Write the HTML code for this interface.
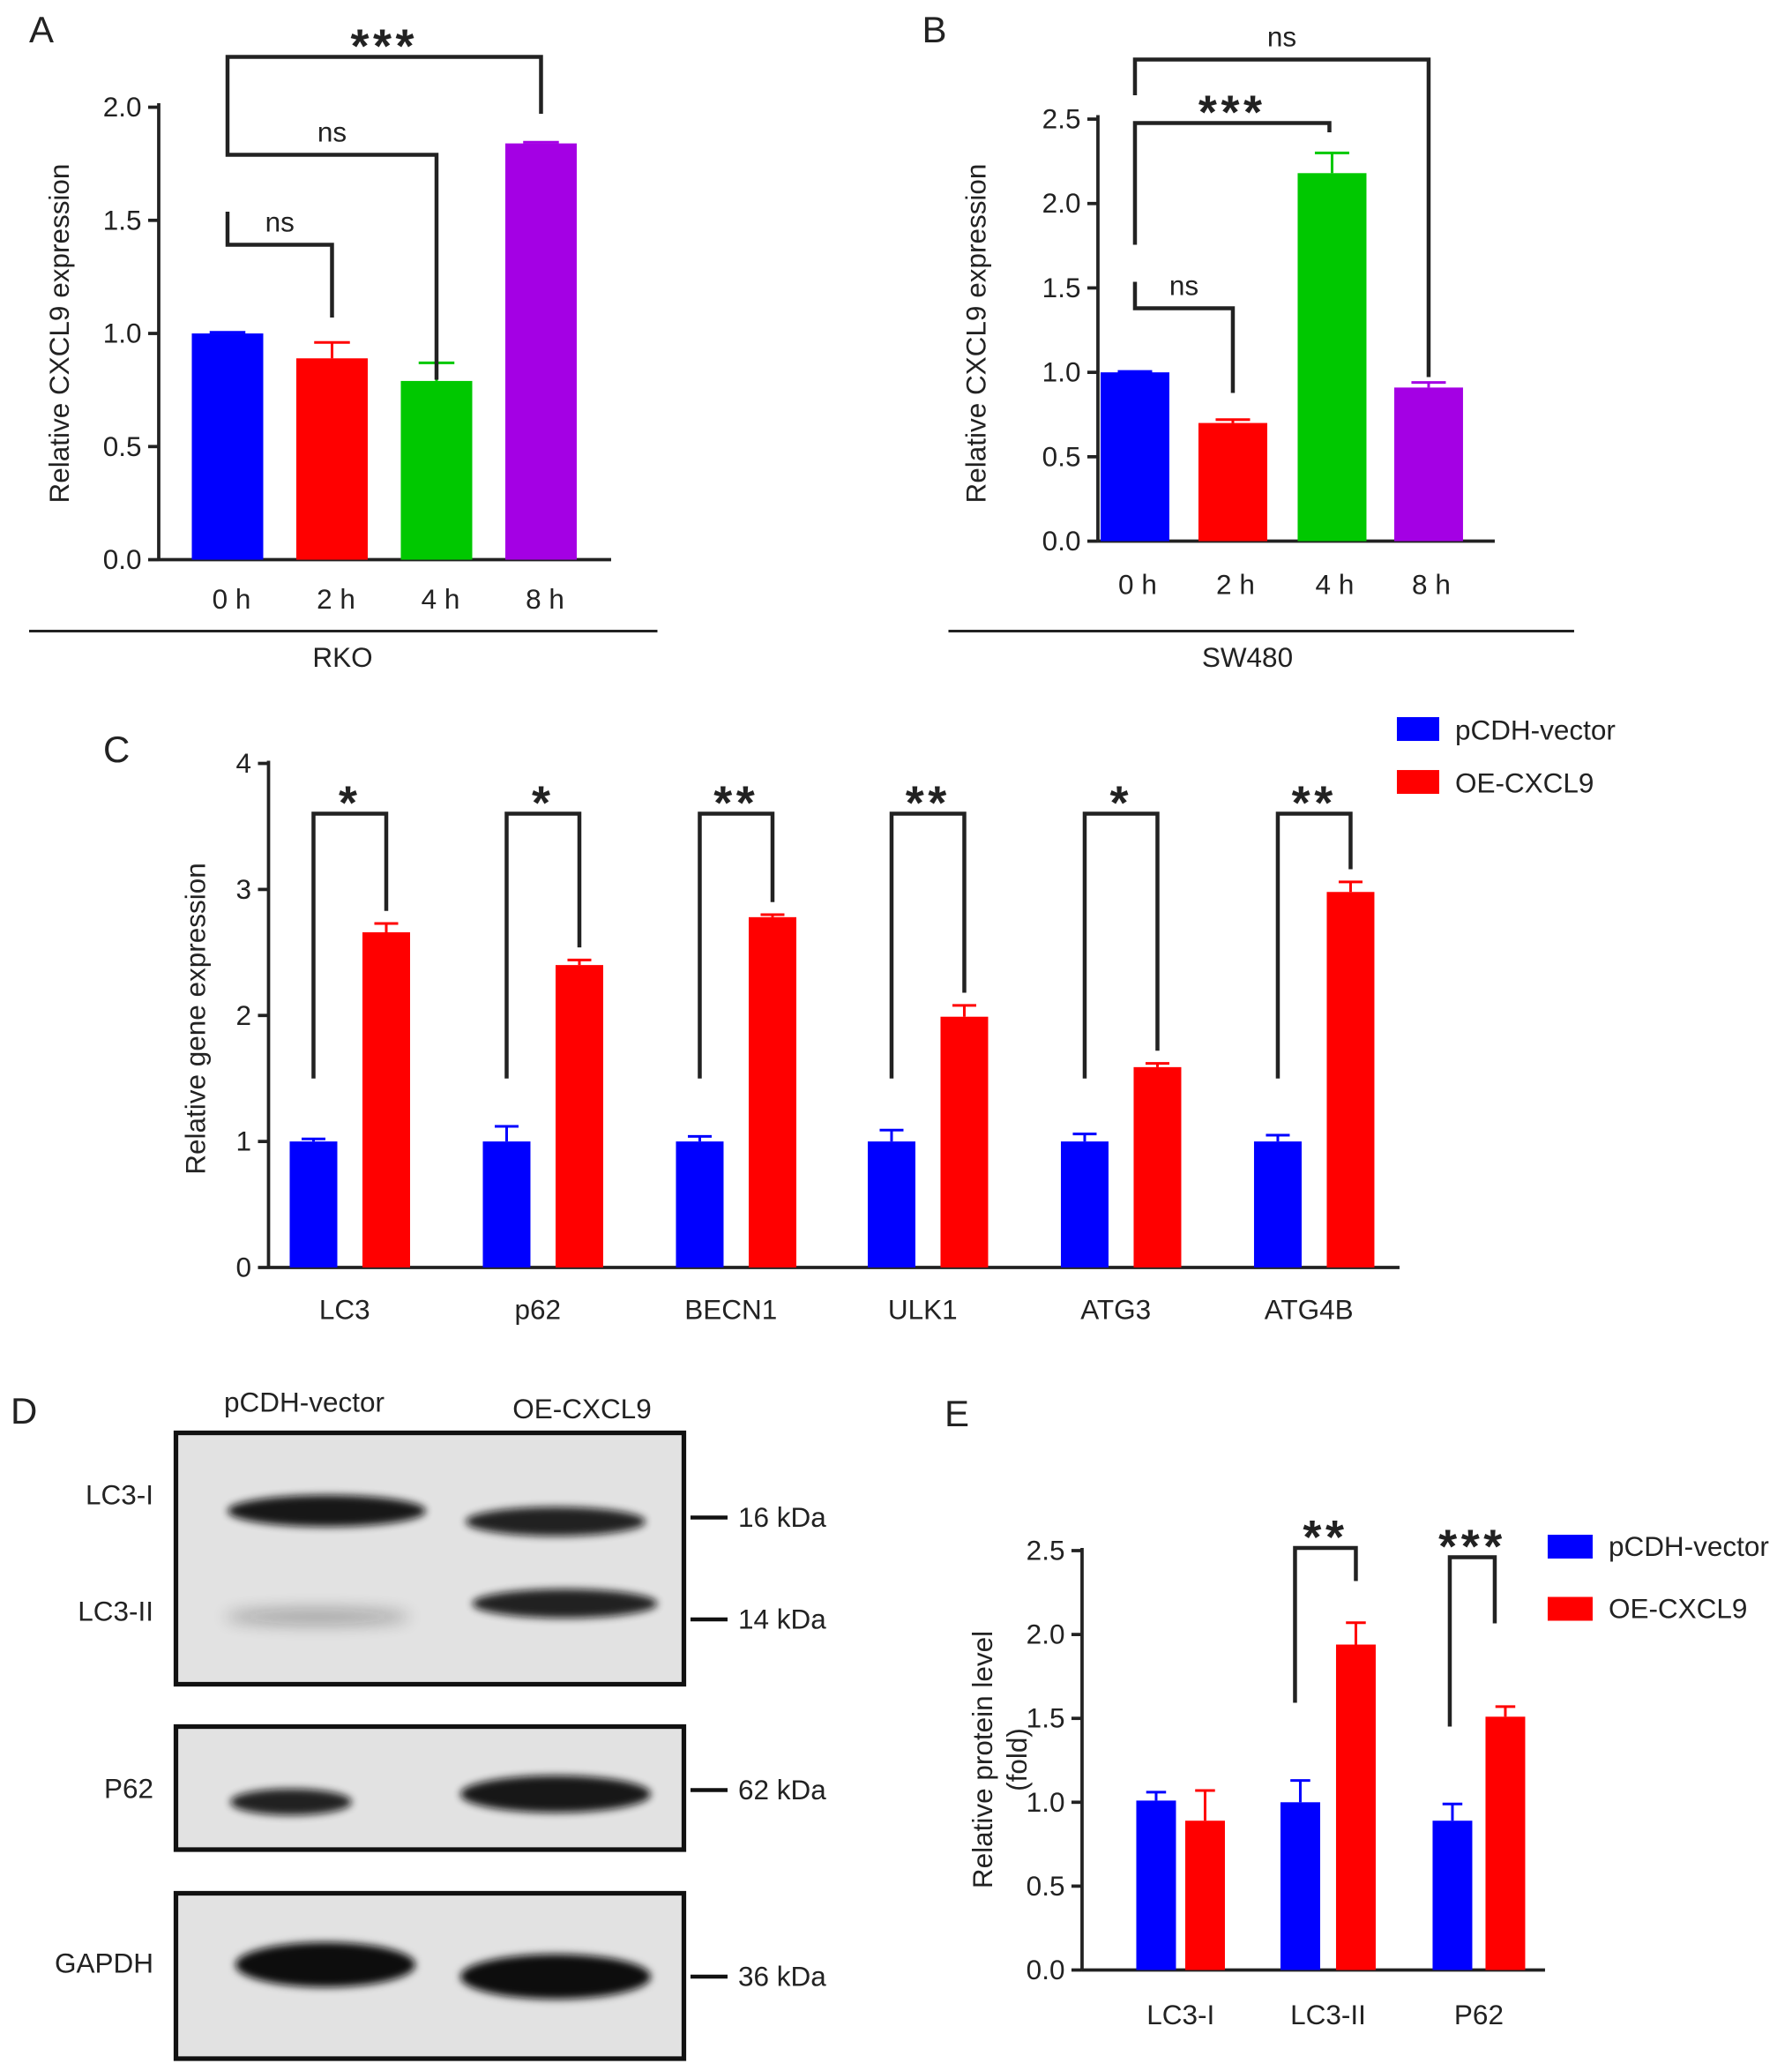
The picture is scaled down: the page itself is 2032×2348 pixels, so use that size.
<!DOCTYPE html>
<html><head><meta charset="utf-8"><style>
html,body{margin:0;padding:0;background:#fff}
svg{display:block}
text{font-family:"Liberation Sans",Arial,sans-serif;fill:#222}
</style></head><body>
<svg id="fig" width="2032" height="2348" viewBox="0 0 1354.7 1565.3" xmlns="http://www.w3.org/2000/svg">
<defs>
<filter id="blur" x="-50%" y="-100%" width="200%" height="300%"><feGaussianBlur stdDeviation="6"/></filter>
<filter id="blur2" x="-50%" y="-100%" width="200%" height="300%"><feGaussianBlur stdDeviation="3"/></filter>
</defs>
<g id="root"></g>
</svg>
<script>
// Panel A data
const aCats=["0 h","2 h","4 h","8 h"];
const aVals=[1.0,0.89,0.79,1.84];
const aErr=[0.005,0.07,0.08,0.005];
const aTicks=[0,0.5,1.0,1.5,2.0];
// Panel B data
const bCats=["0 h","2 h","4 h","8 h"];
const bVals=[1.0,0.70,2.18,0.91];
const bErr=[0.005,0.02,0.12,0.03];
const bTicks=[0,0.5,1.0,1.5,2.0,2.5];
// Panel C data
const cCats=["LC3","p62","BECN1","ULK1","ATG3","ATG4B"];
const cVector=[1,1,1,1,1,1];
const cVectorErr=[0.02,0.12,0.04,0.09,0.06,0.05];
const cOE=[2.66,2.40,2.78,1.99,1.59,2.98];
const cOEErr=[0.07,0.04,0.02,0.09,0.03,0.08];
const cStars=["*","*","**","**","*","**"];
const cTicks=[0,1,2,3,4];
// Panel E data
const eCats=["LC3-I","LC3-II","P62"];
const eVector=[1.01,1.0,0.89];
const eVectorErr=[0.05,0.13,0.10];
const eOE=[0.89,1.94,1.51];
const eOEErr=[0.18,0.13,0.06];
const eTicks=[0,0.5,1.0,1.5,2.0,2.5];

const NS="http://www.w3.org/2000/svg";
const root=document.getElementById('root');
function el(tag,attrs,parent,txt){const e=document.createElementNS(NS,tag);for(const k in attrs)e.setAttribute(k,attrs[k]);if(txt!==undefined)e.textContent=txt;(parent||root).appendChild(e);return e;}
function grp(name){const g=el('g',{});


return g;}
const BLUE="#0000ff",RED="#ff0000",GREEN="#00c800",PURP="#a400e4";
const FS=21;

function axes(g,x0,x1,y0,ytop,ticks,scale,fmt){
  el('line',{x1:x0,y1:y0,x2:x1,y2:y0,stroke:'#222','stroke-width':2.5},g);
  el('line',{x1:x0,y1:y0,x2:x0,y2:ytop,stroke:'#222','stroke-width':2.5},g);
  ticks.forEach(t=>{const y=scale(t);
    el('line',{x1:x0-8,y1:y,x2:x0,y2:y,stroke:'#222','stroke-width':2.5},g);
    const tx=el('text',{x:x0-13,y:y+7,'font-size':FS,'text-anchor':'end'},g,fmt(t));
    
    
  });
}
function bar(g,cx,w,v,err,col,scale,y0,name){
  const r=el('rect',{x:cx-w/2,y:scale(v),width:w,height:y0-scale(v),fill:col},g);
  
  
  const yt=scale(v+err);
  el('line',{x1:cx,y1:scale(v),x2:cx,y2:yt,stroke:col,'stroke-width':2},g);
  el('line',{x1:cx-w/4,y1:yt,x2:cx+w/4,y2:yt,stroke:col,'stroke-width':2},g);
}
function bracket(g,xl,xr,ytop,yl,yr,label,fs){
  el('path',{d:`M${xl},${yl} V${ytop} H${xr} V${yr}`,fill:'none',stroke:'#222','stroke-width':3},g);
  const star=label!=='ns';
  const t=el('text',{x:(xl+xr)/2,y:ytop-(star?-4:10),'font-size':star?fs+6:FS,'text-anchor':'middle','font-weight':star?'bold':'normal','letter-spacing':star?3:0},g,label);
  
  
}
function fmt1(t){return t.toFixed(1);}

// ---------- Panel A
(function(){
 const g=grp('panel-a');
 el('text',{x:22,y:32,'font-size':28},g,'A');
 const y0=423,sc=v=>y0-v*171;
 axes(g,120,462,y0,y0-2.0*171-3,aTicks,sc,fmt1);
 const cx=[172,251,330,409],cols=[BLUE,RED,GREEN,PURP];
 aVals.forEach((v,i)=>{bar(g,cx[i],54,v,aErr[i],cols[i],sc,y0,'bar-'+aCats[i].replace(' ',''));
   el('text',{x:cx[i]+3,y:460,'font-size':FS,'text-anchor':'middle'},g,aCats[i]);});
 const yl=el('text',{x:0,y:0,'font-size':FS,'text-anchor':'middle',transform:'translate(52,252) rotate(-90)'},g,'Relative CXCL9 expression');
 
 el('line',{x1:22,y1:477,x2:497,y2:477,stroke:'#222','stroke-width':2},g);
 el('text',{x:259,y:504,'font-size':FS,'text-anchor':'middle'},g,'RKO');
 bracket(g,172,409,43,97,86,'***',30);
 bracket(g,172,330,117,97,287,'ns',19);
 bracket(g,172,251,185,160,240,'ns',19);
})();

// ---------- Panel B
(function(){
 const g=grp('panel-b');
 el('text',{x:697,y:32,'font-size':28},g,'B');
 const y0=409,sc=v=>y0-v*127.6;
 axes(g,830,1130,y0,sc(2.5)-3,bTicks,sc,fmt1);
 const cx=[858,932,1007,1080],cols=[BLUE,RED,GREEN,PURP];
 bVals.forEach((v,i)=>{bar(g,cx[i],52,v,bErr[i],cols[i],sc,y0,'bar-'+bCats[i].replace(' ',''));
   el('text',{x:cx[i]+2,y:449,'font-size':FS,'text-anchor':'middle'},g,bCats[i]);});
 const yl=el('text',{x:0,y:0,'font-size':FS,'text-anchor':'middle',transform:'translate(745,252) rotate(-90)'},g,'Relative CXCL9 expression');
 
 el('line',{x1:717,y1:477,x2:1190,y2:477,stroke:'#222','stroke-width':2},g);
 el('text',{x:943,y:504,'font-size':FS,'text-anchor':'middle'},g,'SW480');
 bracket(g,858,1080,45,72,285,'ns',19);
 bracket(g,858,1005,93,185,100,'***',30);
 bracket(g,858,932,233,213,297,'ns',19);
})();

// ---------- Panel C
(function(){
 const g=grp('panel-c');
 el('text',{x:78,y:576,'font-size':28},g,'C');
 const y0=958,sc=v=>y0-v*95.25;
 axes(g,203,1058,y0,sc(4)-2,cTicks,sc,t=>String(t));
 const bx=[237,383,529,674,820,966],rx=[292,438,584,729,875,1021];
 cCats.forEach((c,i)=>{
   bar(g,bx[i],36,cVector[i],cVectorErr[i],BLUE,sc,y0,'bar-vector-'+c);
   bar(g,rx[i],36,cOE[i],cOEErr[i],RED,sc,y0,'bar-oe-'+c);
   el('text',{x:(bx[i]+rx[i])/2-4,y:997,'font-size':FS,'text-anchor':'middle'},g,c);
   bracket(g,bx[i],rx[i],615,sc(cVector[i]+0.5),sc(cOE[i]+cOEErr[i]+0.1),cStars[i],30);
 });
 const yl=el('text',{x:0,y:0,'font-size':FS,'text-anchor':'middle',transform:'translate(155,770) rotate(-90)'},g,'Relative gene expression');
 
 const l1=el('g',{},g);
 el('rect',{x:1056,y:542,width:32,height:18,fill:BLUE},l1);
 el('text',{x:1100,y:559,'font-size':FS},l1,'pCDH-vector');
 const l2=el('g',{},g);
 el('rect',{x:1056,y:582,width:32,height:18,fill:RED},l2);
 el('text',{x:1100,y:599,'font-size':FS},l2,'OE-CXCL9');
})();

// ---------- Panel D
(function(){
 const g=grp('panel-d-western-blot');
 el('text',{x:8,y:1076,'font-size':28},g,'D');
 el('text',{x:230,y:1067,'font-size':FS,'text-anchor':'middle'},g,'pCDH-vector');
 el('text',{x:440,y:1072,'font-size':FS,'text-anchor':'middle'},g,'OE-CXCL9');
 const boxes=[[1083,1273],[1305,1398],[1431,1556]];
 boxes.forEach(b=>el('rect',{x:133,y:b[0],width:384,height:b[1]-b[0],fill:'#e2e2e2',stroke:'#111','stroke-width':3.5},g));
 const band=(cx,cy,rx,ry,op,f)=>el('ellipse',{cx,cy,rx,ry,fill:'#111',opacity:op,filter:f||'url(#blur2)'},g);
 band(247,1142,75,12,0.95);band(420,1150,68,11,0.9);
 band(240,1222,70,6,0.3,'url(#blur)');band(427,1212,70,11,0.9);
 band(220,1362,46,10,0.9);band(420,1356,72,14,0.95);
 band(246,1485,68,17,1);band(420,1494,72,17,1);
 [['LC3-I',1130],['LC3-II',1218],['P62',1352],['GAPDH',1484]].forEach(l=>{
   el('text',{x:116,y:l[1]+7,'font-size':FS,'text-anchor':'end'},g,l[0]);});
 [['16 kDa',1147],['14 kDa',1224],['62 kDa',1353],['36 kDa',1494]].forEach(m=>{
   el('line',{x1:522,y1:m[1],x2:550,y2:m[1],stroke:'#111','stroke-width':3},g);
   el('text',{x:558,y:m[1]+7,'font-size':FS},g,m[0]);});
})();

// ---------- Panel E
(function(){
 const g=grp('panel-e');
 el('text',{x:714,y:1078,'font-size':28},g,'E');
 const y0=1489,sc=v=>y0-v*126.8;
 axes(g,818,1168,y0,sc(2.5)-2,eTicks,sc,fmt1);
 const bx=[874,983,1098],rx=[911,1025,1138];
 eCats.forEach((c,i)=>{
   bar(g,bx[i],30,eVector[i],eVectorErr[i],BLUE,sc,y0,'bar-vector-'+c);
   bar(g,rx[i],30,eOE[i],eOEErr[i],RED,sc,y0,'bar-oe-'+c);
   el('text',{x:(bx[i]+rx[i])/2,y:1530,'font-size':FS,'text-anchor':'middle'},g,c);
 });
 bracket(g,979,1025,1170,1287,1195,'**',30);
 bracket(g,1096,1130,1177,1305,1227,'***',30);
 const yl=el('text',{x:0,y:0,'font-size':FS,'text-anchor':'middle',transform:'translate(750,1330) rotate(-90)'},g,'Relative protein level');
 
 el('text',{x:0,y:0,'font-size':FS,'text-anchor':'middle',transform:'translate(776,1330) rotate(-90)'},g,'(fold)');
 const l1=el('g',{},g);
 el('rect',{x:1170,y:1160,width:34,height:18,fill:BLUE},l1);
 el('text',{x:1216,y:1176,'font-size':FS},l1,'pCDH-vector');
 const l2=el('g',{},g);
 el('rect',{x:1170,y:1207,width:34,height:18,fill:RED},l2);
 el('text',{x:1216,y:1223,'font-size':FS},l2,'OE-CXCL9');
})();
</script>
</body></html>
